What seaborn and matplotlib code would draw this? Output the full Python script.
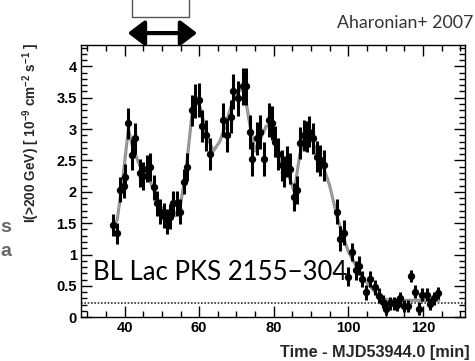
import numpy as np
import pandas as pd
import matplotlib
matplotlib.use("Agg")
import matplotlib.pyplot as plt
from matplotlib.ticker import MultipleLocator
from matplotlib.patches import FancyArrowPatch
import seaborn as sns

# ---- data ----
time_min = [37.0, 37.9, 38.8, 39.7, 40.1, 40.9, 41.9, 42.9, 44.0, 44.8, 46.0, 46.9,
            48.0, 48.8, 49.6, 50.5, 51.3, 52.2, 53.1, 54.0, 54.9, 55.8, 56.7, 58.0,
            58.9, 59.9, 60.8, 61.7, 62.9, 66.5, 67.4, 68.5, 69.2, 70.5, 71.7, 72.5,
            73.5, 74.3, 75.4, 76.3, 77.3, 78.6, 79.5, 80.3, 81.2, 82.1, 82.8, 83.6,
            84.4, 85.4, 86.3, 87.1, 88.0, 88.8, 89.5, 90.6, 91.5, 92.3, 93.4, 96.9,
            97.8, 98.9, 99.9, 100.9, 102.0, 102.8, 103.8, 104.8, 105.9, 107.1, 108.1,
            109.2, 110.0, 111.2, 112.2, 113.0, 113.9, 115.0, 116.0, 116.9, 117.9,
            118.9, 119.9, 121.0, 122.0, 123.0, 124.0]
flux = [1.47, 1.34, 2.03, 2.10, 2.24, 3.09, 2.59, 2.85, 2.30, 2.25, 2.37, 2.40,
        2.07, 1.82, 1.68, 1.62, 1.52, 1.60, 1.82, 1.82, 1.68, 2.16, 2.40, 3.30,
        3.45, 3.46, 3.05, 2.90, 2.60, 3.14, 2.90, 3.20, 3.60, 3.49, 3.68, 3.68,
        2.96, 2.53, 2.85, 2.96, 2.53, 3.14, 3.09, 2.80, 2.60, 2.42, 2.32, 2.48,
        2.37, 1.92, 2.03, 2.78, 2.90, 2.88, 2.96, 2.85, 2.56, 2.50, 2.42, 1.68,
        1.25, 1.35, 0.65, 1.04, 0.75, 0.82, 0.61, 0.40, 0.61, 0.48, 0.34,
        0.25, 0.13, 0.22, 0.22, 0.20, 0.30, 0.18, 0.18, 0.66, 0.41,
        0.14, 0.36, 0.36, 0.21, 0.30, 0.39]
flux_err = [0.17, 0.17, 0.20, 0.20, 0.20, 0.25, 0.25, 0.25, 0.22, 0.22, 0.22, 0.22,
            0.20, 0.20, 0.20, 0.20, 0.20, 0.20, 0.20, 0.20, 0.20, 0.20, 0.22, 0.25,
            0.27, 0.27, 0.25, 0.25, 0.25, 0.27, 0.27, 0.27, 0.28, 0.28, 0.30, 0.30,
            0.27, 0.27, 0.27, 0.27, 0.27, 0.27, 0.27, 0.25, 0.25, 0.25, 0.25, 0.25,
            0.25, 0.22, 0.22, 0.25, 0.25, 0.25, 0.25, 0.25, 0.25, 0.25, 0.25, 0.20,
            0.20, 0.20, 0.15, 0.15, 0.15, 0.15, 0.13, 0.12, 0.12, 0.12, 0.12,
            0.10, 0.10, 0.10, 0.10, 0.10, 0.10, 0.10, 0.10, 0.10, 0.10,
            0.10, 0.10, 0.10, 0.10, 0.10, 0.10]

fit_time = [36.8, 38.0, 39.5, 41.0, 42.0, 43.5, 45.0, 47.0, 49.0, 50.5, 52.0, 53.5,
            55.0, 56.5, 58.0, 59.3, 60.5, 62.0, 63.8, 65.5, 67.0, 69.0, 70.5, 72.0,
            73.5, 75.0, 76.5, 78.0, 79.3, 80.5, 82.0, 83.5, 85.5, 87.0, 88.5, 90.0,
            91.5, 93.0, 95.0, 97.0, 98.5, 100.0, 101.5, 103.0, 104.5, 106.0, 107.5,
            109.0, 110.5, 112.0, 124.3]
fit_flux = [1.45, 1.55, 2.20, 3.00, 2.75, 2.50, 2.30, 2.15, 1.85, 1.68, 1.60, 1.62,
            1.80, 2.35, 3.20, 3.50, 3.30, 2.90, 2.65, 2.80, 3.05, 3.45, 3.60, 3.65,
            3.10, 2.65, 2.85, 3.05, 3.05, 2.80, 2.50, 2.35, 2.00, 2.60, 2.95, 2.90,
            2.60, 2.45, 2.10, 1.60, 1.30, 1.05, 0.88, 0.72, 0.58, 0.48, 0.38,
            0.31, 0.28, 0.27, 0.27]

baseline_level = 0.22
x_ticks = [40, 60, 80, 100, 120]
y_ticks = [0, 0.5, 1, 1.5, 2, 2.5, 3, 3.5, 4]

df = pd.DataFrame({"t": time_min, "f": flux, "e": flux_err})
fit = pd.DataFrame({"t": fit_time, "f": fit_flux})

# ---- style ----
sns.set_theme(style="ticks")
plt.rcParams["font.family"] = ["Liberation Sans", "DejaVu Sans"]
plt.rcParams["mathtext.fontset"] = "custom"
plt.rcParams["mathtext.rm"] = "Liberation Sans:bold"
plt.rcParams["mathtext.bf"] = "Liberation Sans:bold"
plt.rcParams["mathtext.default"] = "bf"

fig = plt.figure(figsize=(4.75, 3.61), dpi=100)
ax = fig.add_axes([81 / 475, 1 - 317.3 / 361, (465 - 81) / 475, (317.3 - 45) / 361])

ax.axhline(baseline_level, ls=(0, (1, 1)), lw=1.2, color="#333333", zorder=1)

sns.lineplot(data=fit, x="t", y="f", ax=ax, sort=False, color="#8a8a8a", lw=2.2, zorder=2)
sns.lineplot(data=fit, x="t", y="f", ax=ax, sort=False, color="#d0d0d0", lw=0.6,
             ls=(0, (1, 1)), zorder=2)

ax.errorbar(df["t"], df["f"], yerr=df["e"], xerr=0.5, fmt="none", ecolor="black",
            elinewidth=2.2, capsize=0, zorder=3)
sns.scatterplot(data=df, x="t", y="f", ax=ax, color="black", s=28, edgecolor="black",
                linewidth=0, zorder=4)

ax.set_xlim(28.3, 131.3)
ax.set_ylim(0, 4.34)
ax.set_xticks(x_ticks)
ax.set_yticks(y_ticks)
ax.set_yticklabels([f"{v:g}" for v in y_ticks])
ax.xaxis.set_minor_locator(MultipleLocator(5))
ax.yaxis.set_minor_locator(MultipleLocator(0.1))
ax.tick_params(which="both", direction="in", top=True, right=True, colors="black",
               labelsize=10.5, pad=3)
ax.tick_params(which="major", length=8, width=1)
ax.tick_params(which="minor", length=4, width=1)
for lab in ax.get_xticklabels() + ax.get_yticklabels():
    lab.set_fontweight("bold")
for s in ax.spines.values():
    s.set_linewidth(1.0)
    s.set_color("black")

ax.set_xlabel("Time - MJD53944.0 [min]", fontsize=11.7, fontweight="bold",
              loc="right")
ax.xaxis.set_label_coords(1.013, -0.102)
ax.set_ylabel(r"I(>200 GeV) [ 10$^{-9}$ cm$^{-2}$ s$^{-1}$ ]", fontsize=9.8,
              fontweight="bold", loc="top")
ax.yaxis.set_label_coords(-0.1016, 1.01)

# annotations
ax.text(93 / 475, 1 - 272 / 361, "BL Lac PKS 2155\u2212304", transform=fig.transFigure,
        family=["Lato", "DejaVu Sans"], fontsize=18.5, color="black",
        ha="left", va="center")
fig.text(473 / 475, 1 - 23 / 361, "Aharonian+ 2007", family=["Lato", "DejaVu Sans"],
         fontsize=12.8, color="#333333", ha="right", va="center")

arrow = FancyArrowPatch((40.1, 4.53), (60.2, 4.53), arrowstyle="<|-|>,head_length=0.5,head_width=0.38",
                        mutation_scale=20, lw=3, color="black", clip_on=False)
ax.add_patch(arrow)
ax.plot([41.9, 41.9, 57.3, 57.3], [5.1, 4.78, 4.78, 5.1], color="#555555", lw=1.0,
        clip_on=False)

for txt, yy in [("s", 227), ("a", 251)]:
    fig.text(0.5 / 475, 1 - yy / 361, txt, ha="left", va="center", color="#666666",
             fontsize=14, fontweight="bold")

fig.savefig("out.png", dpi=100)
